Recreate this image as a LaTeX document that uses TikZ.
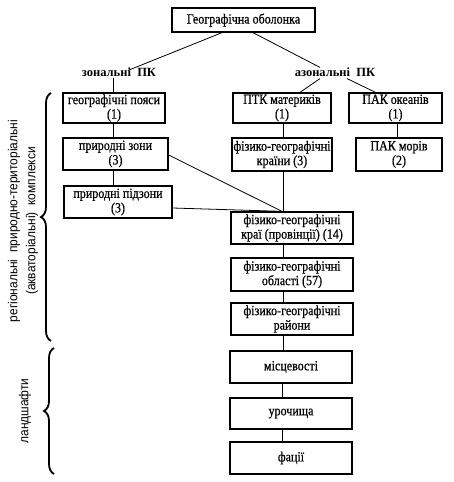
\documentclass[tikz,border=0pt]{standalone}
\usepackage{fontspec}
\setmainfont{Liberation Serif}
\newfontfamily\boxfont{Liberation Serif}[FakeStretch=0.86,FakeBold=0.6]
\newfontfamily\lblfont{Liberation Sans}[FakeStretch=0.92]
\usetikzlibrary{decorations.pathreplacing}
\begin{document}
\begin{tikzpicture}[x=1pt,y=-1pt,
  box/.style={draw, line width=1.3pt, align=center, inner sep=0pt,
    font=\boxfont\fontsize{14}{14.5}\selectfont},
  grp/.style={font=\fontsize{12.5}{13}\selectfont\bfseries, inner sep=1pt},
  link/.style={line width=0.8pt},
  brc/.style={decorate, decoration={brace, amplitude=10pt}, line width=1.8pt},
  side/.style={font=\lblfont\fontsize{13}{18}\selectfont, align=center, rotate=90}]
\useasboundingbox (0,0) rectangle (453,482);
% top
\node[box, minimum width=143pt, minimum height=24pt] (top) at (243.5,20) {Географічна оболонка};
\node[grp] (zon) at (119,72) {зональні\ \ ПК};
\node[grp] (azon) at (335,72) {азональні\ \ ПК};
% left column
\node[box, minimum width=102pt, minimum height=30pt] (poyasy) at (114,108) {географічні пояси\\(1)};
\node[box, minimum width=105pt, minimum height=32pt] (zony) at (115.5,154) {природні зони\\(3)};
\node[box, minimum width=108pt, minimum height=32pt] (pidzony) at (118,202) {природні підзони\\(3)};
% right columns
\node[box, minimum width=98pt, minimum height=30pt] (ptk) at (282,108) {ПТК материків\\(1)};
\node[box, minimum width=93pt, minimum height=30pt] (okean) at (395.5,108) {ПАК океанів\\(1)};
\node[box, minimum width=100pt, minimum height=33pt] (krainy) at (282,154.5) {фізико-географічні\\країни (3)};
\node[box, minimum width=86pt, minimum height=33pt] (moriv) at (399,154.5) {ПАК морів\\(2)};
% centre column
\node[box, minimum width=122pt, minimum height=32pt] (krai) at (292,228) {фізико-географічні\\краї (провінції) (14)};
\node[box, minimum width=122pt, minimum height=33pt] (oblasti) at (292,274.5) {фізико-географічні\\області (57)};
\node[box, minimum width=122pt, minimum height=32pt] (raiony) at (292,319) {фізико-географічні\\райони};
\node[box, minimum width=122pt, minimum height=32pt] (mists) at (291,367) {місцевості};
\node[box, minimum width=122pt, minimum height=31pt] (uroch) at (291,413.5) {урочища};
\node[box, minimum width=122pt, minimum height=32pt] (fatsii) at (291,458) {фації};
% connectors
\draw[link] ([xshift=-21.5pt]top.south) -- ([xshift=9pt,yshift=-4pt]zon.north);
\draw[link] ([xshift=9.5pt]top.south) -- ([xshift=-15pt,yshift=-1pt]azon.north);
\draw[link] ([xshift=-15pt,yshift=-1pt]azon.south) -- ([xshift=18pt]ptk.north);
\draw[link] ([xshift=12pt,yshift=-1pt]azon.south) -- ([xshift=-20pt]okean.north);
\draw[link] (zon.south -| poyasy.north) ++(-1,0) coordinate (zs) -- (zs |- poyasy.north);
\draw[link] ([xshift=-1pt]poyasy.south) -- ([xshift=-2.5pt]zony.north);
\draw[link] ([xshift=-2.5pt]zony.south) -- ([xshift=-5pt]pidzony.north);
\draw[link] ([yshift=-1pt]zony.east) -- ([xshift=-10pt]krai.north);
\draw[link] ([yshift=-6pt]pidzony.east) -- ([xshift=-10pt]krai.north);
\draw[link] ([xshift=1pt]ptk.south) -- ([xshift=1pt]krainy.north);
\draw[link] ([xshift=1pt]krainy.south) -- ([xshift=-9pt]krai.north);
\draw[link] ([xshift=1.5pt]okean.south) -- ([xshift=-2pt]moriv.north);
\draw[link] ([xshift=-9pt]krai.south) -- ([xshift=-9pt]oblasti.north);
\draw[link] ([xshift=-9pt]oblasti.south) -- ([xshift=-9pt]raiony.north);
\draw[link] ([xshift=-9pt]raiony.south) -- ([xshift=-8pt]mists.north);
\draw[link] ([xshift=-9pt]mists.south) -- ([xshift=-9pt]uroch.north);
\draw[link] ([xshift=-9pt]uroch.south) -- ([xshift=-9pt]fatsii.north);
% braces and side labels
\coordinate (b1t) at (51,93);
\coordinate (b1b) at (51,341);
\coordinate (b2t) at (54,348);
\coordinate (b2b) at (54,474);
\draw[brc] (b1b) -- (b1t);
\draw[brc] (b2b) -- (b2t);
\node[side] (reg) at (23,221) {регіональні\ \ природно-територіальні\\(акваторіальні)\ \ комплекси};
\node[side] (land) at (25,411) {ландшафти};
\end{tikzpicture}
\end{document}
